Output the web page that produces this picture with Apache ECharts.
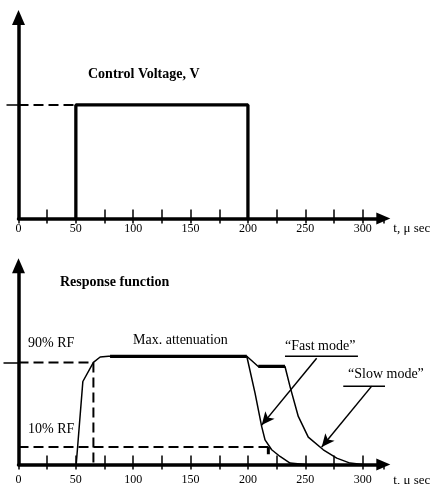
<!DOCTYPE html>
<html>
<head>
<meta charset="utf-8">
<script src="https://cdn.jsdelivr.net/npm/echarts@6/dist/echarts.min.js"></script>
<style>
  html, body { margin: 0; padding: 0; background: #fff; }
  #chart { width: 432px; height: 484px; }
</style>
</head>
<body>
<div id="chart"></div>
<script>
// time axis (µs)
const tickStep = 25;
const labelValues = [0, 50, 100, 150, 200, 250, 300];

// control voltage pulse
const pulseT = [50, 50, 200, 200];
const pulseV = [0, 1, 1, 0];
const pulseLevel = 1;

// response function, "fast mode" (includes the rise)
const fastT = [50.3, 56.1, 65.3, 71.2, 78.4, 199, 206.2, 212, 214.9, 220.7, 228, 236.7, 249.7];
const fastV = [0, 76.7, 94.3, 99.3, 100, 100, 66, 35, 22.8, 13.6, 7.4, 1.3, 0];
// "slow mode" branch
const slowT = [199, 209, 232.3, 236.7, 243.9, 252.6, 265.7, 277.4, 289, 300];
const slowV = [100, 90.6, 90.6, 72, 44.4, 25.3, 13.6, 5.9, 1.3, 0];
// thick segments
const plateauT = [79.8, 199];
const plateauV = 100;
const slowFlatT = [209, 232.3];
const slowFlatV = 90.6;

// 90% / 10% reference levels
const rf90 = 94.3, rf90T = 65.3;
const rf10 = 16.1, rf10T = 217.8, rf10Mark = 9.5;

// annotation lines
const fastUnderT = [232.3, 295.9], fastUnderV = 100.1;
const fastArrowT = [259.9, 212], fastArrowV = [98.2, 36.4];
const slowUnderT = [283.1, 351.4], slowUnderV = 72.4;
const slowArrowT = [307.9, 264.3], slowArrowV = [72.4, 16.1];

const font = "'Liberation Serif', 'Times New Roman', serif";
const tMax = 318;

function pairs(xs, ys) {
  return xs.map((x, i) => [x, ys[i]]);
}

function mainX(gi, margin, nameTop) {
  return {
    type: "value",
    gridIndex: gi,
    position: "bottom",
    min: 0,
    max: tMax,
    interval: tickStep,
    axisLine: {
      show: true,
      onZero: false,
      symbol: ["none", "triangle"],
      symbolSize: [12, 14],
      lineStyle: { color: "#000", width: 3.5 },
    },
    axisTick: {
      show: true,
      inside: true,
      length: 9,
      lineStyle: { color: "#000", width: 1.5 },
    },
    axisLabel: {
      margin: margin,
      color: "#000",
      fontSize: 12,
      fontFamily: font,
      showMinLabel: true,
      showMaxLabel: false,
      formatter: function(v) {
        return labelValues.indexOf(v) >= 0 ? String(v) : "";
      },
    },
    splitLine: { show: false },
    name: "t, μ sec",
    nameLocation: "end",
    nameGap: 10,
    nameTextStyle: {
      color: "#000",
      fontSize: 13,
      fontFamily: font,
      align: "left",
      verticalAlign: "top",
      padding: [nameTop, 0, 0, 0],
    },
  };
}

// second axis only for the part of the ticks below the line
function tickX(gi) {
  return {
    type: "value",
    gridIndex: gi,
    position: "bottom",
    min: 0,
    max: tMax,
    interval: tickStep,
    axisLine: { show: false, onZero: false },
    axisTick: {
      show: true,
      inside: false,
      length: 5,
      lineStyle: { color: "#000", width: 1.5 },
    },
    axisLabel: { show: false },
    splitLine: { show: false },
  };
}

function mainY(gi, max, ticks, tickLen) {
  return {
    type: "value",
    gridIndex: gi,
    min: 0,
    max: max,
    axisLine: {
      show: true,
      onZero: false,
      symbol: ["none", "triangle"],
      symbolSize: [13, 15],
      lineStyle: { color: "#000", width: 3.5 },
    },
    axisTick: {
      show: true,
      length: tickLen,
      customValues: ticks,
      lineStyle: { color: "#000", width: 1.5 },
    },
    axisLabel: { show: false },
    splitLine: { show: false },
  };
}

function line(xi, yi, data, width, type, extra) {
  return Object.assign({
    type: "line",
    xAxisIndex: xi,
    yAxisIndex: yi,
    data: data,
    showSymbol: false,
    symbol: "none",
    silent: true,
    lineStyle: { color: "#000", width: width, type: type || "solid" },
  }, extra || {});
}

function arrow(ts, vs) {
  return {
    silent: true,
    symbol: ["none", "arrow"],
    symbolSize: [9, 13],
    label: { show: false },
    lineStyle: { color: "#000", width: 1.5, type: "solid" },
    emphasis: { disabled: true },
    data: [[{ coord: [ts[0], vs[0]] }, { coord: [ts[1], vs[1]] }]],
  };
}

function text(x, y, str, bold) {
  return {
    type: "text",
    x: x,
    y: y,
    style: {
      text: str,
      fill: "#000",
      font: (bold ? "bold " : "") + "14px " + font,
      align: "left",
      verticalAlign: "middle",
    },
  };
}

var myChart = echarts.init(document.getElementById("chart"), null, { renderer: "canvas" });
var option = {
  animation: false,
  backgroundColor: "#fff",
  grid: [
    { left: 18.5, top: 17.5, width: 364.8, height: 201, outerBoundsMode: "none" },
    { left: 18.5, top: 265.8, width: 364.8, height: 198.7, outerBoundsMode: "none" },
  ],
  xAxis: [mainX(0, 4.5, 4), tickX(0), mainX(1, 9, 10), tickX(1)],
  yAxis: [mainY(0, 1.77, [pulseLevel], 12), mainY(1, 183.6, [rf90], 15)],
  series: [
    line(0, 0, pairs(pulseT, pulseV), 3.3),
    line(0, 0, [[0, pulseLevel], [pulseT[0], pulseLevel]], 2, [10, 5]),
    line(2, 1, pairs(fastT, fastV), 1.5),
    line(2, 1, pairs(slowT, slowV), 1.5),
    line(2, 1, plateauT.map((t) => [t, plateauV]), 3.3),
    line(2, 1, slowFlatT.map((t) => [t, slowFlatV]), 3.3),
    line(2, 1, [[0, rf90], [rf90T, rf90], [rf90T, 0]], 2, [10, 5]),
    line(2, 1, [[0, rf10], [rf10T, rf10]], 2, [10, 5]),
    line(2, 1, [[rf10T, rf10], [rf10T, rf10Mark]], 3),
    line(2, 1, fastUnderT.map((t) => [t, fastUnderV]), 1.5, null, {
      clip: false,
      markLine: arrow(fastArrowT, fastArrowV),
    }),
    line(2, 1, slowUnderT.map((t) => [t, slowUnderV]), 1.5, null, {
      clip: false,
      markLine: arrow(slowArrowT, slowArrowV),
    }),
  ],
  graphic: [
    text(88, 74, "Control Voltage, V", true),
    text(60, 282, "Response function", true),
    text(133, 340, "Max. attenuation", false),
    text(28, 343, "90% RF", false),
    text(28, 429, "10% RF", false),
    text(285, 346, "“Fast mode”", false),
    text(348, 374, "“Slow mode”", false),
  ],
};

myChart.setOption(option);

window.addEventListener("resize", function() {
  myChart.resize();
});
</script>
</body>
</html>
